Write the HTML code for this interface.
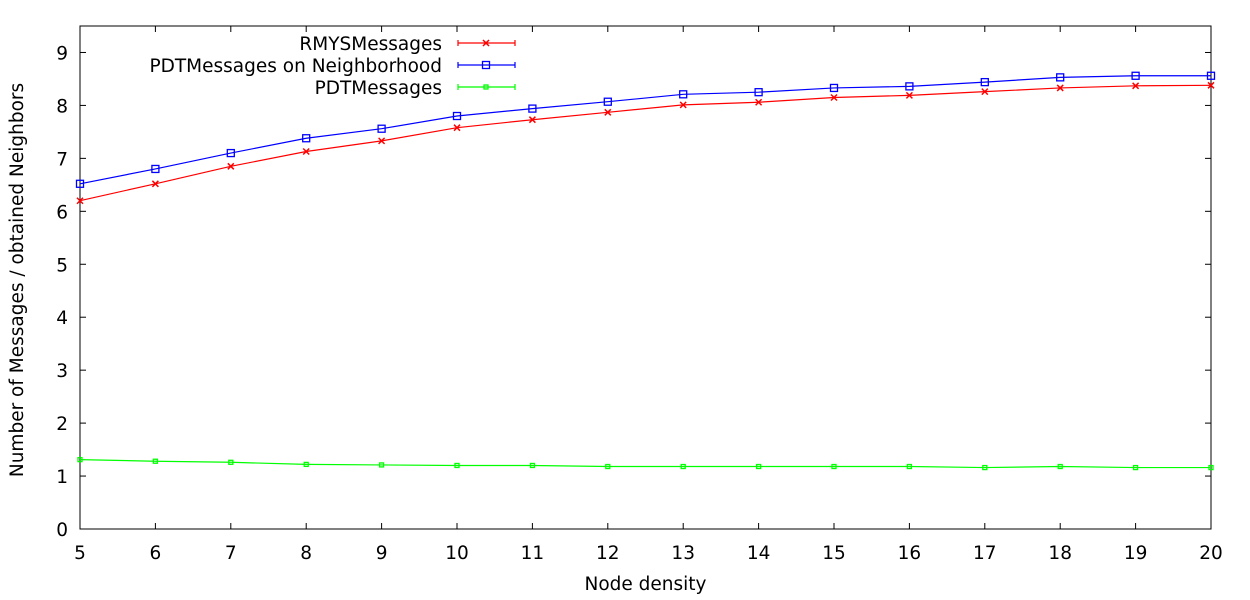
<!DOCTYPE html>
<html><head><meta charset="utf-8"><style>
html,body{margin:0;padding:0;background:#fff;}
svg{display:block;font-family:"DejaVu Sans","Liberation Sans",sans-serif;}
</style></head><body>
<svg id="chart" width="1250" height="600">
<g id="axes"></g><g id="series"></g><g id="legend"></g>
</svg>
<script>
const xCats=[5,6,7,8,9,10,11,12,13,14,15,16,17,18,19,20];
const yTicks=[0,1,2,3,4,5,6,7,8,9];
const rmys=[6.2,6.52,6.85,7.13,7.33,7.58,7.73,7.87,8.01,8.06,8.15,8.19,8.26,8.33,8.37,8.38];
const pdtNeigh=[6.52,6.8,7.1,7.38,7.56,7.8,7.94,8.07,8.21,8.25,8.33,8.36,8.44,8.53,8.56,8.56];
const pdt=[1.31,1.28,1.26,1.22,1.21,1.2,1.2,1.18,1.18,1.18,1.18,1.18,1.16,1.18,1.16,1.16];
const seriesNames=["RMYSMessages","PDTMessages on Neighborhood","PDTMessages"];

const NS="http://www.w3.org/2000/svg";
const L=80,R=1211,T=26,B=529,yMax=9.5;
const xs=v=>L+(v-5)/(20-5)*(R-L);
const ys=v=>B-v/yMax*(B-T);
function mk(tag,attrs,parent,text){const e=document.createElementNS(NS,tag);for(const k in attrs)e.setAttribute(k,attrs[k]);if(text!==undefined)e.textContent=text;parent.appendChild(e);return e;}
const ax=document.getElementById('axes');
let e=mk('rect',{x:L,y:T,width:R-L,height:B-T,fill:'none',stroke:'#000','stroke-width':1},ax);


yTicks.forEach(v=>{const y=ys(v);
 mk('line',{x1:L,x2:L+6,y1:y,y2:y,stroke:'#000'},ax);
 mk('line',{x1:R,x2:R-6,y1:y,y2:y,stroke:'#000'},ax);
 const t=mk('text',{x:L-12,y:y+7,'text-anchor':'end','font-size':18.5},ax,String(v));
 
 
});
xCats.forEach(v=>{const x=xs(v);
 mk('line',{x1:x,x2:x,y1:B,y2:B-6,stroke:'#000'},ax);
 mk('line',{x1:x,x2:x,y1:T,y2:T+6,stroke:'#000'},ax);
 const t=mk('text',{x:x,y:559,'text-anchor':'middle','font-size':18.5},ax,String(v));
 
 
});
e=mk('text',{x:(L+R)/2,y:590,'text-anchor':'middle','font-size':18.5},ax,'Node density');


e=mk('text',{x:0,y:0,'text-anchor':'middle','font-size':18.5,transform:'translate(23,280) rotate(-90)'},ax,'Number of Messages / obtained Neighbors');



const sg=document.getElementById('series');
function marker(kind,x,y,c,g){
 if(kind==='x'){mk('path',{d:`M${x-3},${y-3}L${x+3},${y+3}M${x-3},${y+3}L${x+3},${y-3}`,stroke:c,'stroke-width':1.5,fill:'none'},g);}
 else if(kind==='sq'){mk('rect',{x:x-3.5,y:y-3.5,width:7,height:7,stroke:c,'stroke-width':1.3,fill:'none'},g);}
 else {mk('rect',{x:x-2,y:y-2,width:4,height:4,stroke:c,'stroke-width':1.3,fill:'none'},g);}
}
const defs=[[rmys,'#ff0000','x','rmys-series'],[pdtNeigh,'#0000ff','sq','pdt-neighborhood-series'],[pdt,'#00ff00','o','pdt-series']];
defs.forEach(([vals,c,kind,name])=>{
 const g=mk('g',{},sg);
 
 
 mk('polyline',{points:vals.map((v,i)=>xs(xCats[i])+','+ys(v)).join(' '),fill:'none',stroke:c,'stroke-width':1.2},g);
 vals.forEach((v,i)=>marker(kind,xs(xCats[i]),ys(v),c,g));
});
const lg=document.getElementById('legend');
[['#ff0000','x'],['#0000ff','sq'],['#00ff00','o']].forEach(([c,kind],i)=>{
 const y=43+i*22;
 const g=mk('g',{},lg);
 
 
 mk('text',{x:442,y:y+7,'text-anchor':'end','font-size':18.5},g,seriesNames[i]);
 mk('path',{d:`M458,${y}H515M458,${y-3}V${y+3}M515,${y-3}V${y+3}`,stroke:c,'stroke-width':1.2,fill:'none'},g);
 marker(kind,486,y,c,g);
});
</script>
</body></html>
